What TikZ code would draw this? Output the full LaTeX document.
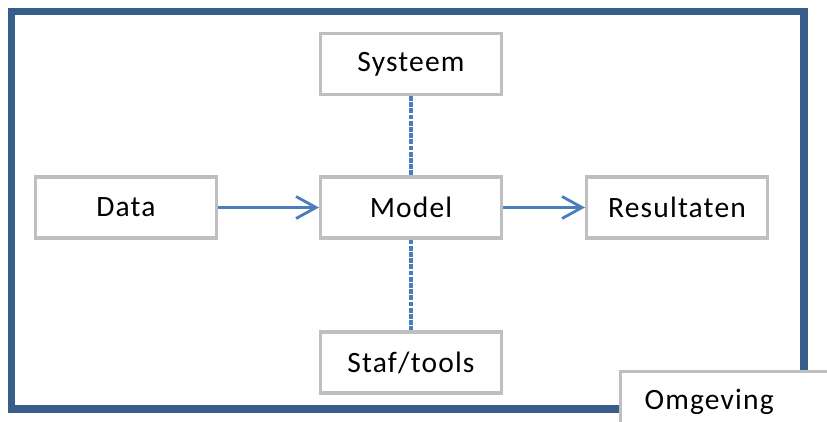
\documentclass[tikz,border=0pt]{standalone}
\usepackage{fontspec}
\setmainfont{Carlito}[LetterSpace=4]
\usepackage{tikz}
\usetikzlibrary{arrows.meta}

\definecolor{boxgray}{RGB}{191,191,191}
\definecolor{linkblue}{RGB}{74,126,187}
\definecolor{framedark}{RGB}{56,93,138}

\begin{document}
\begin{tikzpicture}[
    block/.style={draw=boxgray, line width=2.2pt, fill=white,
        minimum width=4.525cm, minimum height=1.525cm, inner sep=0pt,
        font=\fontsize{21}{25}\selectfont},
    flow/.style={draw=linkblue, line width=2pt,
        -{Straight Barb[length=0.5cm, width=0.55cm, line width=2pt]}},
    link/.style={draw=linkblue, line width=2.4pt, dash pattern=on 0.12cm off 0.035cm}]
    \useasboundingbox (0, 0) rectangle (20.675, 10.525);
    \clip (0, 0) rectangle (20.675, 10.525);

    % Frame
    \draw[framedark, line width=5pt] (0.2875, 0.3) rectangle (20.1, 10.2375);

    % Nodes
    \node[block] (data) at (3.15, 5.3375) {Data};
    \node[block] (model) at (10.275, 5.3375) {Model};
    \node[block] (result) at (16.925, 5.3375) {Resultaten};
    \node[block] (system) at (10.275, 8.925) {Systeem};
    \node[block] (staff) at (10.275, 1.4625) {Staf/tools};

    % Environment label
    \node[block, anchor=north west, text width=5cm, align=left,
        inner xsep=0.6cm] (env) at (15.475, 1.275) {Omgeving};

    % Connections
    \draw[flow] (data) -- (model);
    \draw[flow] (model) -- (result);
    \draw[link] (system) -- (model);
    \draw[link] (model) -- (staff);
\end{tikzpicture}
\end{document}
